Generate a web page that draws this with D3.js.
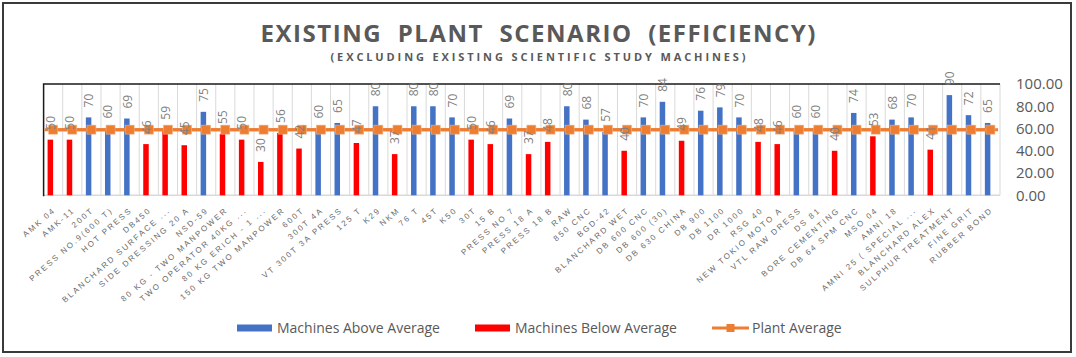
<!DOCTYPE html>
<html><head><meta charset="utf-8">
<script src="https://cdn.jsdelivr.net/npm/d3@7"></script>
<style>
html,body{margin:0;padding:0;background:#fff;}
svg{display:block;}
</style></head>
<body>
<svg id="chart" width="1076" height="357"></svg>
<script>
const categories = ["AMK 04","AMK-11","200T","PRESS NO.9(600 T)","HOT PRESS","DB450","BLANCHARD SURFACE ...","SIDE DRESSING 20 A","NSD-59","80 KG - TWO MANPOWER","TWO OPERATOR 40KG ...","80 KG ERICH - 1 ...","150 KG TWO MANPOWER","600T","300T 4A","VT 300T 3A PRESS","125 T","K29","NKM","76 T","45T","K50","30T","15 B","PRESS NO 7","PRESS 18 A","PRESS 18 B","RAW","850 CNC","BGD-42","BLANCHARD WET","DB 600 CNC","DB 600 (30)","DB 630 CHINA","DB 900","DB 1100","DR 1000","RSG 40","NEW TOKIO MOTO A","VTL RAW DRESS","DS 81","BORE CEMENTING","DB 64 SPM CNC","MSO 04","AMNI 18","AMNI 25 ( SPECIAL ...","BLANCHARD ALEX","SULPHUR TREATMENT","FINE GRIT","RUBBER BOND"];
const aboveAverage = [null,null,70,60,69,null,null,null,75,null,null,null,null,null,60,65,null,80,null,80,80,70,null,null,69,null,null,80,68,57,null,70,84,null,76,79,70,null,null,60,60,null,74,null,68,70,null,90,72,65];
const belowAverage = [50,50,null,null,null,46,59,45,null,55,50,30,56,42,null,null,47,null,37,null,null,null,50,46,null,37,48,null,null,null,40,null,null,49,null,null,null,48,46,null,null,40,null,53,null,null,41,null,null,null];
const plantAverage = categories.map(() => 59);
const yTicks = [0,20,40,60,80,100];
const titleText = "EXISTING  PLANT  SCENARIO  (EFFICIENCY)";
const subtitleText = "(EXCLUDING EXISTING SCIENTIFIC STUDY MACHINES)";
const legendItems = [{name:"Machines Above Average",color:"#4472C4",type:"bar"},{name:"Machines Below Average",color:"#FF0000",type:"bar"},{name:"Plant Average",color:"#ED7D31",type:"line"}];

(function(){
const svg = d3.select("#chart");
const pL = 43.6, pR = 1000, pT = 84, pB = 195.3;
const x = d3.scaleBand().domain(categories).range([pL, pR]).padding(0);
const y = d3.scaleLinear().domain([0,100]).range([pB, pT]);
const bw = x.bandwidth();
const font = "'Open Sans','Liberation Sans',sans-serif";

// outer frame
svg.append("rect").attr("x",3).attr("y",3).attr("width",1068).attr("height",349)
  .attr("fill","none").attr("stroke","#3a3a3a").attr("stroke-width",2);

// title
svg.append("text").attr("x",538).attr("y",41.5).attr("text-anchor","middle")
  .style("white-space","pre")
  .attr("font-family",font).attr("font-weight","bold").attr("font-size",24)
  .attr("fill","#595959").attr("textLength",555).attr("lengthAdjust","spacing").text(titleText);
svg.append("text").attr("x",538).attr("y",60.5).attr("text-anchor","middle")
  .attr("font-family",font).attr("font-weight","bold").attr("font-size",11)
  .attr("fill","#595959").attr("textLength",415).attr("lengthAdjust","spacing").text(subtitleText);

// vertical gridlines at category boundaries
const bounds = categories.map(c => x(c)).concat([pR]);
svg.append("g").selectAll("line").data(bounds.slice(1)).join("line")
  .attr("x1",d=>d).attr("x2",d=>d).attr("y1",pT).attr("y2",pB)
  .attr("stroke","#d9d9d9").attr("stroke-width",1);
// bottom axis line
svg.append("line").attr("x1",pL).attr("x2",pR).attr("y1",pB).attr("y2",pB)
  .attr("stroke","#d9d9d9").attr("stroke-width",1.5);
// black top/left border
svg.append("path").attr("d",`M${pL},${pB+1}V${pT}H${pR}`).attr("fill","none")
  .attr("stroke","#1a1a1a").attr("stroke-width",1.5);

// right y axis
const yAxis = d3.axisRight(y).tickValues(yTicks).tickFormat(d3.format(".2f")).tickSize(0).tickPadding(0);
const ya = svg.append("g").attr("transform",`translate(1016,0)`).call(yAxis);
ya.select(".domain").remove();
ya.selectAll("text").attr("font-family",font).attr("font-size",15).attr("fill","#595959");

// bars
const barOff = 4, barW = 5.5;
function drawBars(vals, color){
  const data = categories.map((c,i)=>({c, v: vals[i]})).filter(d=>d.v!=null);
  svg.append("g").selectAll("rect").data(data).join("rect")
    .attr("x",d=>x(d.c)+barOff).attr("width",barW)
    .attr("y",d=>y(d.v)).attr("height",d=>y(0)-y(d.v)).attr("fill",color);
  return data;
}
const aData = drawBars(aboveAverage,"#4472C4");
const bData = drawBars(belowAverage,"#FF0000");

// line
const lineData = categories.map((c,i)=>({c, v: plantAverage[i]}));
svg.append("line").attr("x1",pL+1).attr("x2",pR-2)
  .attr("y1",y(plantAverage[0])).attr("y2",y(plantAverage[plantAverage.length-1]))
  .attr("stroke","#ED7D31").attr("stroke-width",3);
svg.append("path").datum(lineData)
  .attr("d",d3.line().x(d=>x(d.c)+bw/2).y(d=>y(d.v)))
  .attr("fill","none").attr("stroke","#ED7D31").attr("stroke-width",3);
svg.append("g").selectAll("rect").data(lineData).join("rect")
  .attr("x",d=>x(d.c)+bw/2-4.5).attr("y",d=>y(d.v)-4.5).attr("width",9).attr("height",9)
  .attr("fill","#ED7D31").attr("stroke","#F4B183").attr("stroke-width",0.6);

// data labels
svg.append("g").selectAll("text").data(aData.concat(bData)).join("text")
  .attr("transform",d=>`translate(${x(d.c)+barOff+barW/2+0.5},${y(d.v)-10}) rotate(-90)`)
  .attr("dy","0.35em").attr("font-family",font).attr("font-size",12).attr("fill","#7f7f7f")
  .text(d=>d.v);

// x labels
svg.append("g").selectAll("text").data(categories).join("text")
  .attr("transform",d=>`translate(${x(d)+bw/2+3},${211}) rotate(-41)`)
  .attr("text-anchor","end").attr("font-family","'Liberation Sans',sans-serif").attr("font-size",8)
  .attr("letter-spacing",2).attr("fill","#6a6a6a").text(d=>d);

// legend
const legY = 328;
const legPos = [{sx:237, tx:277},{sx:475, tx:515},{sx:712, tx:752}];
legendItems.forEach((it,i)=>{
  const p = legPos[i];
  if(it.type==="bar"){
    svg.append("rect").attr("x",p.sx).attr("y",legY-3.5).attr("width",35).attr("height",7).attr("fill",it.color);
  } else {
    svg.append("line").attr("x1",p.sx).attr("x2",p.sx+37).attr("y1",legY).attr("y2",legY)
      .attr("stroke",it.color).attr("stroke-width",3);
    svg.append("rect").attr("x",p.sx+18.5-4).attr("y",legY-4).attr("width",8).attr("height",8).attr("fill",it.color);
  }
  svg.append("text").attr("x",p.tx).attr("y",legY).attr("dy","0.35em")
    .attr("font-family",font).attr("font-size",14).attr("fill","#595959").text(it.name);
});
})();
</script>
</body></html>
